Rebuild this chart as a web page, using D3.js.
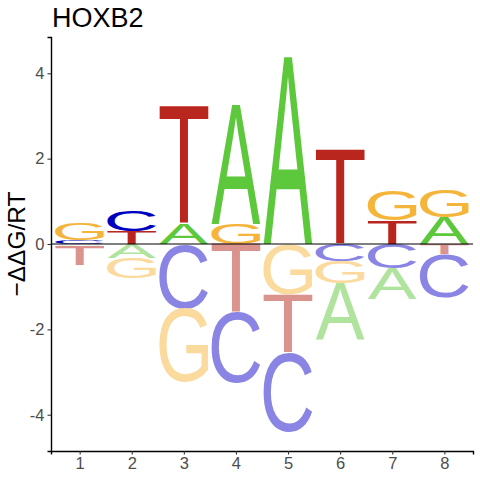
<!DOCTYPE html>
<html>
<head>
<meta charset="utf-8">
<script src="https://cdn.jsdelivr.net/npm/d3@7"></script>
<style>
  body { margin: 0; background: #fff; }
  svg { display: block; }
</style>
</head>
<body>
<div id="chart"></div>
<script>
// Data: energy (-ddG/RT) per base at each position
const positions = [1, 2, 3, 4, 5, 6, 7, 8];
const bases = ["A", "C", "G", "T"];
const energyA = [-0.04, -0.33, 0.48, 2.79, 4.39, -1.31, -0.71, 0.62];
const energyC = [0.08, 0.49, -1.51, -1.66, -1.86, -0.40, -0.58, -1.03];
const energyG = [0.40, -0.48, -1.73, 0.48, -1.18, -0.51, 0.72, 0.64];
const energyT = [-0.46, 0.30, 2.77, -1.60, -1.36, 2.22, 0.55, -0.23];
const yTicks = [-4, -2, 0, 2, 4];

const energies = { A: energyA, C: energyC, G: energyG, T: energyT };

const posColor = { A: "#5dc83b", C: "#0000c0", G: "#f5b53a", T: "#b8261d" };
const negColor = { A: "#b0e49e", C: "#8a84e4", G: "#fbda9e", T: "#db938d" };

const W = 480, H = 480;
const panel = { left: 51, right: 473, top: 37, bottom: 451 };
const letterWidth = 0.94;
const FONT = "'Liberation Sans', Arial, Helvetica, sans-serif";

const x = d3.scaleLinear().domain([0.45, 8.55]).range([panel.left, panel.right]);
const y = d3.scaleLinear().domain([-4.85, 4.85]).range([panel.bottom, panel.top]);

// Build stacked letter boxes: small values nearest zero
const stacks = [];
positions.forEach((p, i) => {
  const vals = bases.map((b) => ({ base: b, v: energies[b][i] }));
  const pos = vals.filter((d) => d.v > 0).sort((a, b) => a.v - b.v);
  const neg = vals.filter((d) => d.v < 0).sort((a, b) => b.v - a.v);
  let acc = 0;
  pos.forEach((d) => {
    stacks.push({ pos: p, base: d.base, y0: acc, y1: acc + d.v, color: posColor[d.base] });
    acc += d.v;
  });
  acc = 0;
  neg.forEach((d) => {
    stacks.push({ pos: p, base: d.base, y0: acc + d.v, y1: acc, color: negColor[d.base] });
    acc += d.v;
  });
});

// Ink bounds of glyphs, measured on a canvas
const ctx = document.createElement("canvas").getContext("2d");
ctx.font = `100px ${FONT}`;
const ink = {};
bases.forEach((b) => {
  const m = ctx.measureText(b);
  ink[b] = {
    left: -m.actualBoundingBoxLeft,
    right: m.actualBoundingBoxRight,
    top: -m.actualBoundingBoxAscent,
    bottom: m.actualBoundingBoxDescent,
  };
});

const svg = d3.select("#chart").append("svg").attr("width", W).attr("height", H);

// Letters, each stretched to fill its box
svg.append("g")
  .selectAll("text")
  .data(stacks)
  .join("text")
  .attr("font-family", FONT)
  .attr("font-size", 100)
  .attr("fill", (d) => d.color)
  .attr("transform", (d) => {
    const g = ink[d.base];
    const x0 = x(d.pos - letterWidth / 2);
    const w = x(d.pos + letterWidth / 2) - x0;
    const top = y(d.y1);
    const h = y(d.y0) - top;
    const sx = w / (g.right - g.left);
    const sy = h / (g.bottom - g.top);
    return `translate(${x0},${top}) scale(${sx},${sy}) translate(${-g.left},${-g.top})`;
  })
  .text((d) => d.base);

// Zero line
svg.append("line")
  .attr("x1", panel.left).attr("x2", panel.right)
  .attr("y1", y(0)).attr("y2", y(0))
  .attr("stroke", "#000").attr("stroke-width", 1.1);

// Axes
const yAxis = svg.append("g")
  .attr("transform", `translate(${panel.left},0)`)
  .call(d3.axisLeft(y).tickValues(yTicks).tickSize(3.5).tickPadding(3).tickFormat(d3.format("d")));
const xAxis = svg.append("g")
  .attr("transform", `translate(0,${panel.bottom})`)
  .call(d3.axisBottom(x).tickValues(positions).tickSize(3.5).tickPadding(3));

[yAxis, xAxis].forEach((a) => {
  a.select(".domain").attr("stroke", "#000").attr("stroke-width", 1.4);
  a.selectAll(".tick line").attr("stroke", "#333").attr("stroke-width", 1.1);
  a.selectAll(".tick text")
    .attr("fill", "#4d4d4d")
    .attr("font-family", FONT)
    .attr("font-size", 16.5);
});
yAxis.selectAll(".tick text").text((d) => (d < 0 ? "-" + Math.abs(d) : d));

// Axis title
svg.append("text")
  .attr("transform", `translate(25,${(panel.top + panel.bottom) / 2}) rotate(-90)`)
  .attr("text-anchor", "middle")
  .attr("font-family", FONT)
  .attr("font-size", 24.5)
  .attr("fill", "#000")
  .text("\u2212\u0394\u0394G/RT");

// Title
svg.append("text")
  .attr("x", 52)
  .attr("y", 27)
  .attr("font-family", FONT)
  .attr("font-size", 27)
  .attr("fill", "#000")
  .text("HOXB2");
</script>
</body>
</html>
